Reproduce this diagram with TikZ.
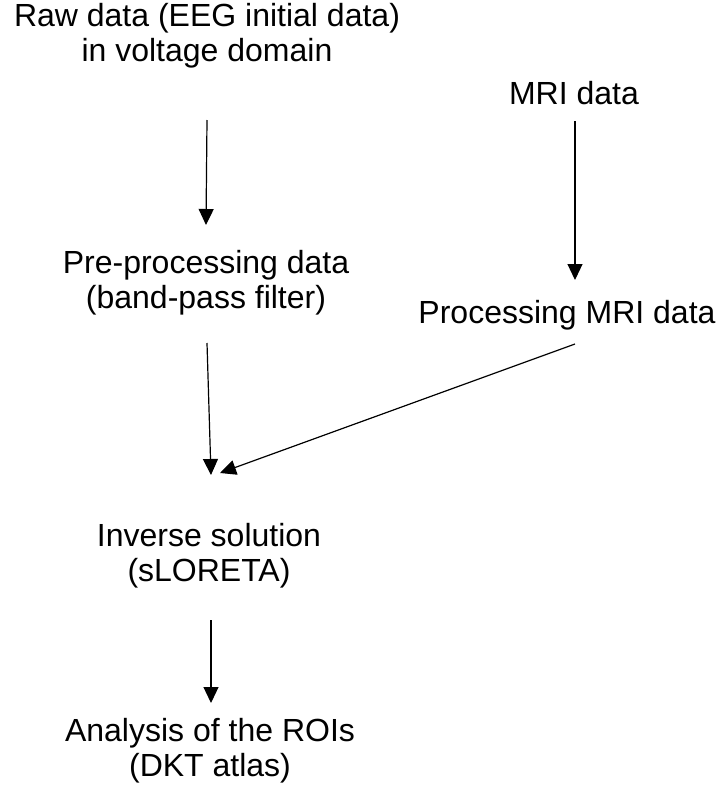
\documentclass[tikz,border=0pt]{standalone}
\usepackage{fontspec}
\setmainfont{Liberation Sans}
\usetikzlibrary{arrows.meta,positioning}

\begin{document}
\begin{tikzpicture}[x=1pt, y=-1pt, >={Triangle[length=16pt,width=15pt]},
    every node/.style={align=center, inner sep=0pt, font=\fontsize{32}{35}\selectfont},
    arr/.style={->, line width=1.2pt}]
      \useasboundingbox (0,0) rectangle (726,785);
      \node (raw) at (207,36) {Raw data (EEG initial data)\\in voltage domain};
      \node (mri) at (574,93) {MRI data};
      \node (pre) at (206,283) {Pre-processing data\\(band-pass filter)};
      \node (proc) at (567,315) {Processing MRI data};
      \node (inv) at (209,556) {Inverse solution\\(sLORETA)};
      \node (ana) at (210,751) {Analysis of the ROIs\\(DKT atlas)};

      \draw[arr] ([yshift=-84pt]raw.center) -- ([yshift=58pt]pre.center);
      \draw[arr] ([xshift=1pt,yshift=-28pt]mri.center) -- ([xshift=8pt,yshift=35pt]proc.center);
      \draw[arr] ([xshift=1pt,yshift=-60pt]pre.center) -- ([xshift=2pt,yshift=81pt]inv.center);
      \draw[arr] ([xshift=8pt,yshift=-29pt]proc.center) -- ([xshift=11pt,yshift=83pt]inv.center);
      \draw[arr] ([xshift=2pt,yshift=-64pt]inv.center) -- ([xshift=1pt,yshift=48pt]ana.center);
    \end{tikzpicture}
\end{document}
